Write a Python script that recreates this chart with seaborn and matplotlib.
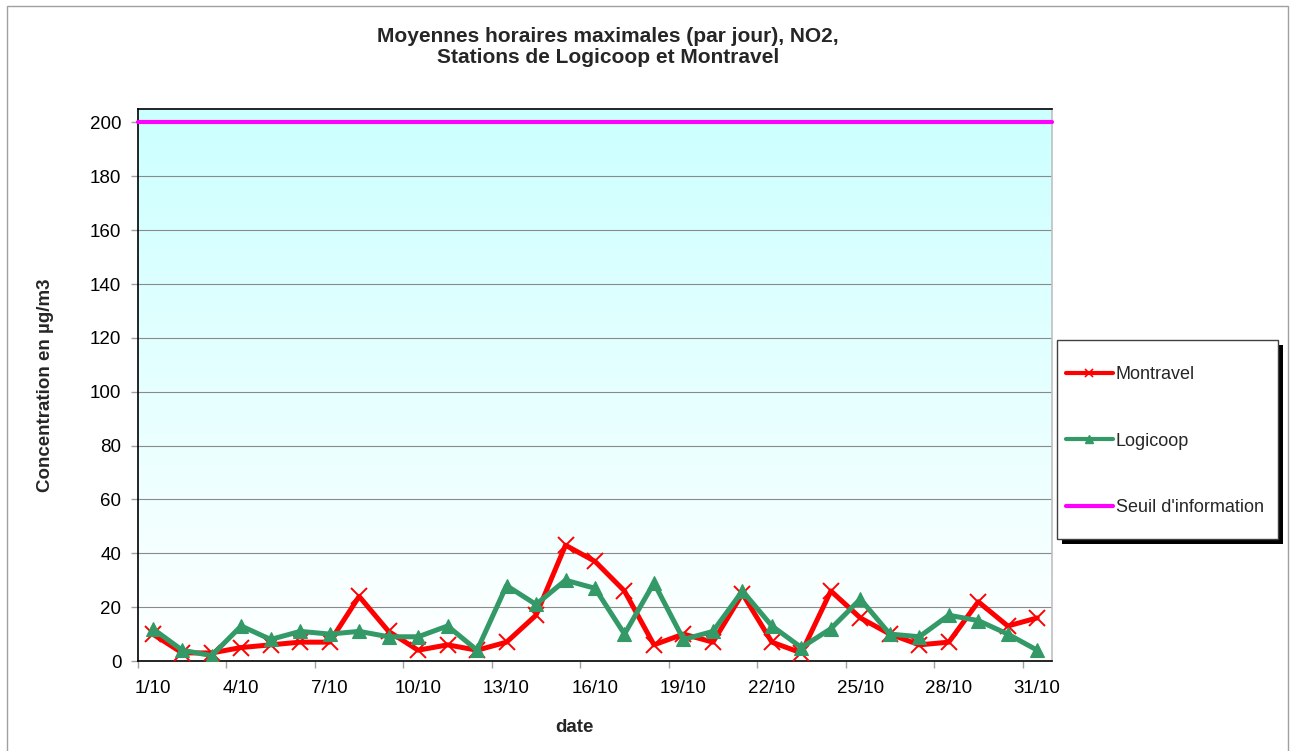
import numpy as np
import pandas as pd
import matplotlib
matplotlib.use("Agg")
import matplotlib.pyplot as plt
import seaborn as sns
from matplotlib.patches import Rectangle
from matplotlib.lines import Line2D
from matplotlib.colors import LinearSegmentedColormap

# ---------------- data ----------------
dates = ["1/10", "2/10", "3/10", "4/10", "5/10", "6/10", "7/10", "8/10", "9/10", "10/10",
         "11/10", "12/10", "13/10", "14/10", "15/10", "16/10", "17/10", "18/10", "19/10", "20/10",
         "21/10", "22/10", "23/10", "24/10", "25/10", "26/10", "27/10", "28/10", "29/10", "30/10",
         "31/10"]
montravel = [10, 3, 3, 5, 6, 7, 7, 24, 11, 4,
             6, 4, 7, 17, 43, 37, 26, 6, 10, 7,
             25, 7, 3, 26, 16, 10, 6, 7, 22, 13,
             16]
logicoop = [12, 4, 2, 13, 8, 11, 10, 11, 9, 9,
            13, 4, 28, 21, 30, 27, 10, 29, 8, 11,
            26, 13, 5, 12, 23, 10, 9, 17, 15, 10,
            4]
seuil = 200
yticks = [0, 20, 40, 60, 80, 100, 120, 140, 160, 180, 200]
shown_labels = ["1/10", "4/10", "7/10", "10/10", "13/10", "16/10", "19/10", "22/10", "25/10", "28/10", "31/10"]

title_l1 = "Moyennes horaires maximales (par jour), NO2,"
title_l2 = "Stations de Logicoop et Montravel"
ylabel = "Concentration en µg/m3"
xlabel = "date"

# ---------------- style ----------------
sns.set_theme(style="white")
plt.rcParams["font.family"] = ["Liberation Sans", "DejaVu Sans"]

W, H = 1293, 751
fig = plt.figure(figsize=(W / 100, H / 100), dpi=100)
fig.patch.set_facecolor("white")

# outer chart border
fig.patches.append(Rectangle((7 / W, -0.01), (1288 - 7) / W, 1 - 6 / H + 0.01,
                             transform=fig.transFigure, fill=False,
                             ec="#A0A0A0", lw=1.0, zorder=0))

left, right, top, bottom = 138, 1052, 109, 661
ax = fig.add_axes([left / W, 1 - bottom / H, (right - left) / W, (bottom - top) / H])

n = len(dates)
xpos = np.arange(n)
df = pd.DataFrame({"pos": xpos, "date": dates, "Montravel": montravel, "Logicoop": logicoop})

ymax = 205
ax.set_xlim(-0.5, n - 0.5)
ax.set_ylim(0, ymax)

# gradient background
cmap = LinearSegmentedColormap.from_list("bg", ["#FFFFFF", "#CCFFFF"])
grad = np.linspace(0, 1, 256).reshape(-1, 1)
ax.imshow(grad, extent=[-0.5, n - 0.5, 0, ymax], origin="lower", aspect="auto",
          cmap=cmap, zorder=0, interpolation="bicubic")

ax.set_yticks(yticks)
ax.yaxis.grid(True, color="#8A8A8A", lw=0.8, zorder=0.5)
ax.xaxis.grid(False)
ax.set_axisbelow(True)

# series
sns.lineplot(data=df, x="pos", y="Montravel", ax=ax, color="#FF0000", lw=3.6,
             marker="x", markersize=11, markeredgewidth=1.4, markeredgecolor="#FF0000",
             zorder=3, legend=False)
sns.lineplot(data=df, x="pos", y="Logicoop", ax=ax, color="#339966", lw=3.6,
             marker="^", markersize=9.5, markeredgewidth=0.8, markeredgecolor="#339966",
             markerfacecolor="#339966", zorder=4, legend=False)
ax.axhline(seuil, color="#FF00FF", lw=3.0, zorder=3, clip_on=False)
ax.set_xlim(-0.5, n - 0.5)
ax.set_ylim(0, ymax)

# ticks
label_pos = [dates.index(l) for l in shown_labels]
ax.set_xticks(label_pos)
ax.set_xticklabels(shown_labels, fontsize=13.5)
ax.set_xticks(np.arange(-0.5, n - 0.5, 3), minor=True)
ax.tick_params(axis="x", which="major", length=0, pad=14, colors="black")
ax.tick_params(axis="x", which="minor", length=5, width=1, color="#A0A0A0", direction="out", bottom=True)
ax.tick_params(axis="y", which="major", length=5, width=1, color="#A0A0A0", direction="out",
               left=True, pad=7, labelsize=13.5, labelcolor="black")
ax.set_yticklabels([str(v) for v in yticks])

for s in ["left", "bottom", "top"]:
    ax.spines[s].set_color("black")
    ax.spines[s].set_linewidth(1.2)
ax.spines["right"].set_color("#C0C0C0")
ax.spines["right"].set_linewidth(1.2)

ax.set_xlabel("")
ax.set_ylabel(ylabel, fontsize=13.5, fontweight="bold")
ax.yaxis.set_label_coords((54 - left) / (right - left), 0.5)

fig.text(574 / W, 1 - 728 / H, xlabel, ha="center", va="center", fontsize=13.5, fontweight="bold")
fig.text(608 / W, 1 - 41.5 / H, title_l1, ha="center", va="baseline", fontsize=15, fontweight="bold")
fig.text(608 / W, 1 - 63 / H, title_l2, ha="center", va="baseline", fontsize=15, fontweight="bold")

# legend box with shadow
bx0, bx1, by0, by1 = 1057, 1278, 340, 539
fig.patches.append(Rectangle(((bx0 + 5) / W, 1 - (by1 + 5) / H), (bx1 - bx0) / W, (by1 - by0) / H,
                             transform=fig.transFigure, fc="black", ec="black", lw=0, zorder=5))
fig.patches.append(Rectangle((bx0 / W, 1 - by1 / H), (bx1 - bx0) / W, (by1 - by0) / H,
                             transform=fig.transFigure, fc="white", ec="#404040", lw=1.0, zorder=6))

handles = [
    Line2D([], [], color="#FF0000", lw=3.0, marker="x", markersize=6, markeredgewidth=1.2,
           markeredgecolor="#FF0000"),
    Line2D([], [], color="#339966", lw=3.0, marker="^", markersize=6, markerfacecolor="#339966",
           markeredgecolor="#339966"),
    Line2D([], [], color="#FF00FF", lw=3.0),
]
leg = fig.legend(handles, ["Montravel", "Logicoop", "Seuil d'information"],
                 loc="center left", bbox_to_anchor=(1066 / W, 1 - 441 / H),
                 bbox_transform=fig.transFigure, frameon=False, fontsize=13,
                 handlelength=2.6, handletextpad=0.15, labelspacing=2.75, borderpad=0,
                 borderaxespad=0)
leg.set_zorder(7)

fig.savefig("out.png", dpi=100)
